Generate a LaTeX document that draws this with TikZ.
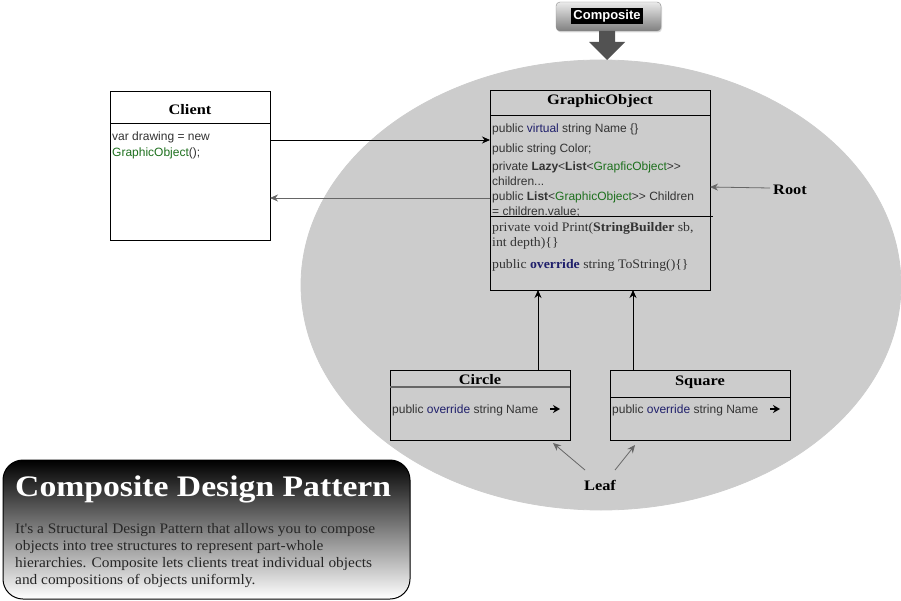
\documentclass[tikz,border=0pt]{standalone}
\usepackage{fontspec}
\setmainfont{Liberation Serif}
\setsansfont{Liberation Sans}
\newfontfamily\geo[FakeStretch=1.13]{Liberation Serif}
\newfontfamily\geob[FakeStretch=1.06]{Liberation Serif}
\usetikzlibrary{arrows.meta,shadows}
\definecolor{txt}{HTML}{333333}
\definecolor{navy}{HTML}{1F1F6B}
\definecolor{grn}{HTML}{1E701E}
\definecolor{ell}{HTML}{CCCCCC}
\tikzset{
  code/.style={anchor=base west, inner sep=0pt, font=\sffamily\fontsize{12}{14}\selectfont, text=txt},
  scode/.style={anchor=base west, inner sep=0pt, font=\geob\fontsize{13}{15}\selectfont, text=txt},
  ttl/.style={anchor=base, inner sep=0pt, font=\geo\bfseries\fontsize{14.5}{16}\selectfont, text=black},
  umlbox/.style={draw=black, line width=0.9pt},
  conn/.style={-{Stealth[length=8pt,width=7pt]}, line width=0.8pt},
  gconn/.style={-{Stealth[length=8pt,width=7pt]}, line width=0.8pt, draw=black!60, color=black!60},
  namearrow/.style={-{Stealth[length=7pt,width=8pt]}, line width=1.4pt},
}
\begin{document}
\begin{tikzpicture}[x=1pt,y=-1pt]
\useasboundingbox (0,0) rectangle (901,601);
% big ellipse
\draw[fill=ell, draw=black!20, line width=0.8pt] (601,285) ellipse [x radius=300, y radius=225];
% Composite button
\shade[top color=black!8, bottom color=black!50, draw=black!45, rounded corners=4pt, drop shadow={opacity=0.3,shadow xshift=1pt,shadow yshift=-1.5pt}] (556,2) rectangle (661,31);
\node[fill=black, text=white, inner xsep=2pt, inner ysep=1.5pt, font=\sffamily\bfseries\fontsize{13}{14}\selectfont] (comp) at (607,16) {Composite};
\fill[black!68] (599,31) -- (615,31) -- (615,42) -- (625,42) -- (607,60) -- (589,42) -- (599,42) -- cycle;
% Client box
\draw[umlbox, fill=white] (110,91) rectangle (270,240);
\draw[line width=0.9pt] (110,123) -- (270,123);
\node[ttl] (clientT) at (190,115) {Client};
\node[code] (c1) at (112,141) {var drawing = new};
\node[code] (c2) at (112,157) {\textcolor{grn}{GraphicObject}();};
\coordinate (clientIn) at (270,140);
\coordinate (clientBack) at (270,198);
% GraphicObject box
\draw[umlbox] (490,90) rectangle (710,290);
\draw[line width=0.9pt] (490,115) -- (710,115);
\draw[line width=0.9pt] (490,216) -- (713,216);
\node[ttl] (goT) at (600,105) {GraphicObject};
\node[code] (g1) at (492,133) {public \textcolor{navy}{virtual} string Name \{\}};
\node[code] (g2) at (492,153) {public string Color;};
\node[code] (g3) at (492,171) {private \textbf{Lazy}<\textbf{List}<\textcolor{grn}{GrapficObject}>{}>};
\node[code] (g4) at (492,186) {children...};
\node[code] (g5) at (492,201) {public \textbf{List}<\textcolor{grn}{GraphicObject}>{}> Children};
\node[code] (g6) at (492,216) {= children.value;};
\node[scode] (g7) at (492,232) {private void Print(\textbf{StringBuilder} sb,};
\node[scode] (g8) at (492,247) {int depth)\{\}};
\node[scode] (g9) at (492,269) {public \textcolor{navy}{\textbf{override}} string ToString()\{\}};
\coordinate (goIn) at (490,140);
\coordinate (goOut) at (490,198);
\coordinate (goRoot) at (710,187);
\coordinate (goB1) at (538,290);
\coordinate (goB2) at (633,290);
\draw[conn] (clientIn) -- (goIn);
\draw[gconn] (goOut) -- (clientBack);
% Root
\node[ttl, anchor=base west] (root) at (773,195) {Root};
\coordinate (rootS) at (770,188);
\draw[gconn] (rootS) -- (goRoot);
% Circle
\draw[umlbox] (390,370) rectangle (570,440);
\draw[line width=1.8pt, black!60] (390,387) -- (570,387);
\node[ttl] (circT) at (480,384) {Circle};
\node[code] (ci1) at (392,413) {public \textcolor{navy}{override} string Name};
\draw[namearrow] (550,409) -- (560,409);
\coordinate (circTop) at (538,370);
% Square
\draw[umlbox] (610,370) rectangle (790,440);
\draw[line width=0.9pt] (610,397) -- (790,397);
\node[ttl] (sqT) at (700,385) {Square};
\node[code] (sq1) at (612,413) {public \textcolor{navy}{override} string Name};
\draw[namearrow] (770,409) -- (780,409);
\coordinate (sqTop) at (633,370);
\draw[conn] (circTop) -- (goB1);
\draw[conn] (sqTop) -- (goB2);
% Leaf
\node[ttl] (leaf) at (600,490) {Leaf};
\coordinate (leafL) at (585,470);
\coordinate (leafR) at (615,470);
\coordinate (circB) at (553,443);
\coordinate (sqB) at (635,445);
\draw[gconn] (leafL) -- (circB);
\draw[gconn] (leafR) -- (sqB);
% Description box
\shade[top color=black, bottom color=white, draw=black, line width=1pt, rounded corners=20pt] (3,460) rectangle (410,599);
\node[anchor=base west, inner sep=0pt, text=white, font=\geo\bfseries\fontsize{29.8}{32}\selectfont] (descT) at (15,496) {Composite Design Pattern};
\node[anchor=north west, inner sep=0pt, text=black!85, align=left, font=\geob\fontsize{14.5}{17}\selectfont] (descB) at (15,523) {It's a Structural Design Pattern that allows you to compose\\objects into tree structures to represent part-whole\\hierarchies. Composite lets clients treat individual objects\\and compositions of objects uniformly.};
\end{tikzpicture}
\end{document}
